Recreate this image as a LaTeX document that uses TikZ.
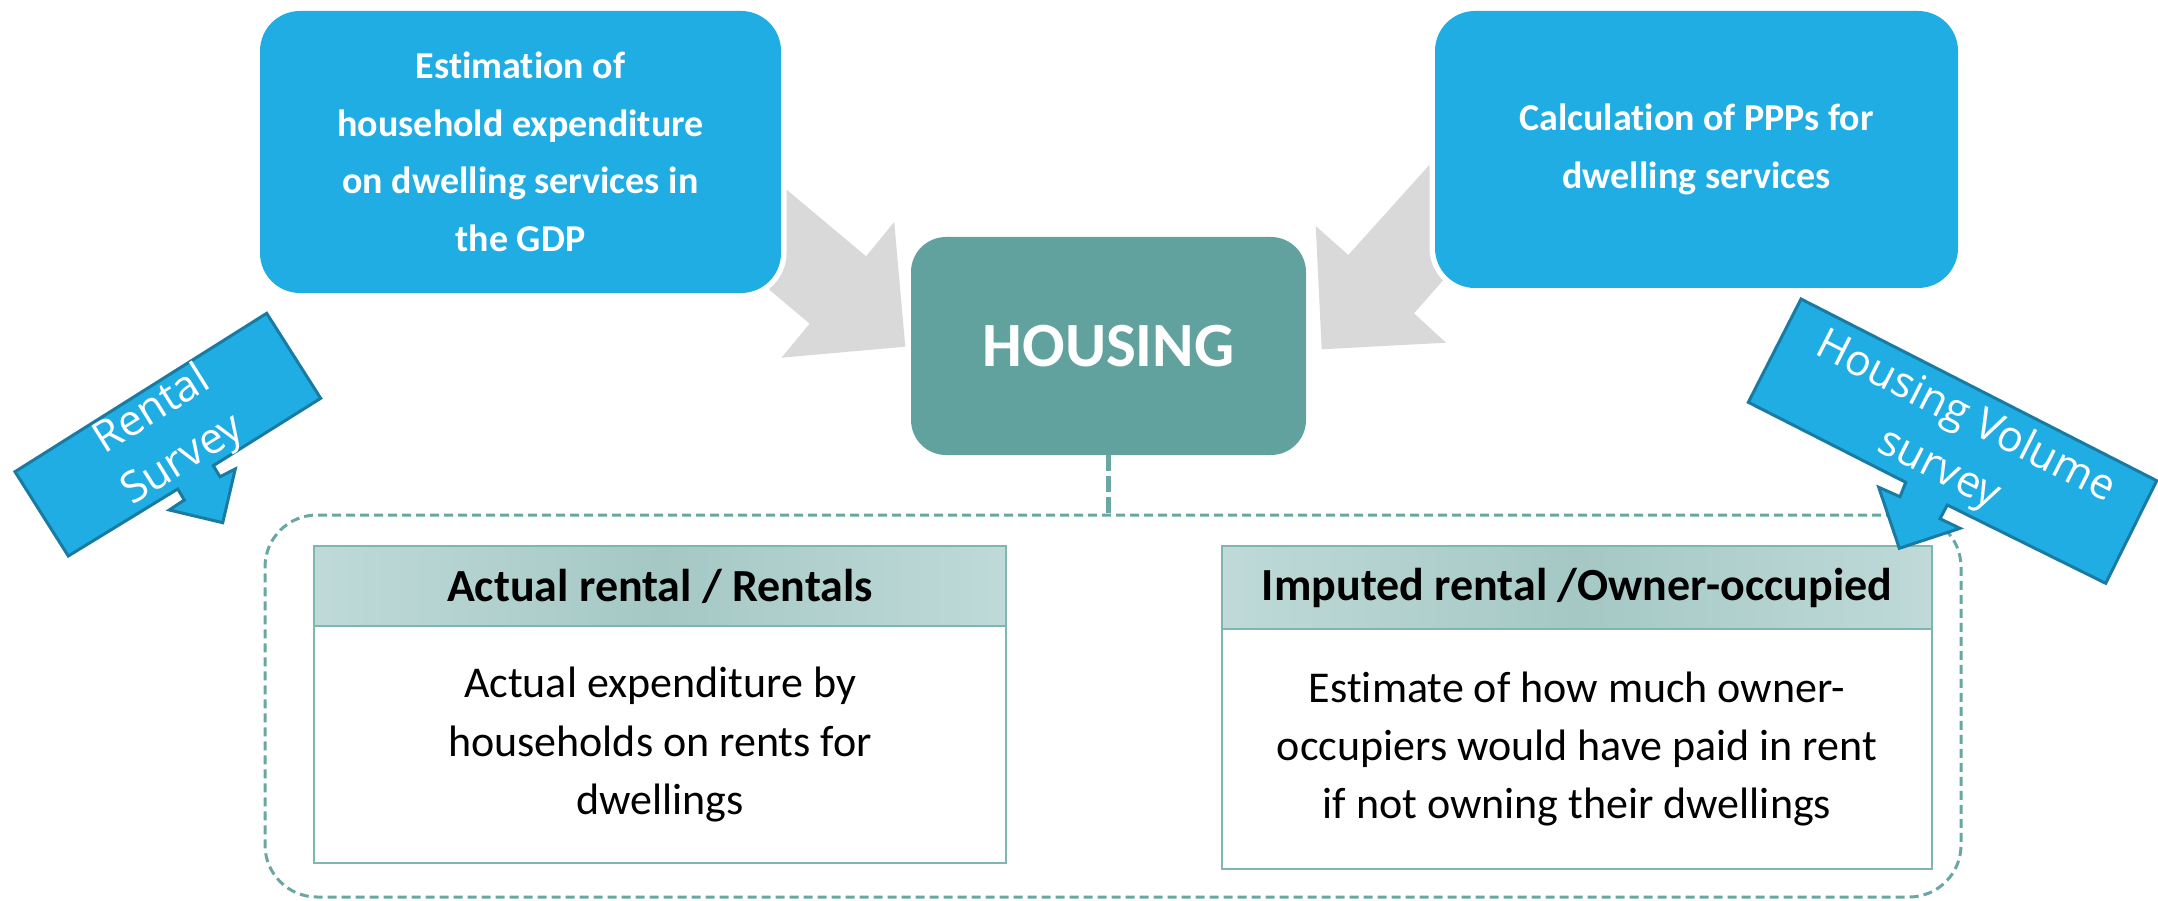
\documentclass[tikz,border=0pt]{standalone}
\usepackage{fontspec}
\setmainfont{Carlito}[Ligatures=CommonOff]
\newfontfamily\calloutfont{Open Sans}
\definecolor{boxblue}{HTML}{1FADE4}
\definecolor{calloutedge}{HTML}{1A7BA2}
\definecolor{housingteal}{HTML}{62A29E}
\definecolor{arrowgray}{HTML}{D9D9D9}
\definecolor{dashteal}{HTML}{68A7A2}
\definecolor{headlight}{HTML}{BFDAD8}
\definecolor{headdark}{HTML}{A5C8C5}
\definecolor{frameteal}{HTML}{80B6B2}
\begin{document}
\begin{tikzpicture}[x=1pt,y=-1pt,
  topbox/.style={fill=boxblue, preaction={draw=white, line width=11pt},
    rounded corners=40pt, text=white, align=center, inner sep=0pt, outer sep=0pt,
    font=\fontsize{38}{57.5}\selectfont\bfseries},
  housingbox/.style={fill=housingteal, rounded corners=35pt, text=white, inner sep=0pt,
    outer sep=0pt, font=\fontsize{63}{70}\selectfont\bfseries},
  grayarrow/.style={fill=arrowgray, draw=none},
  groupbox/.style={draw=dashteal, line width=3pt, dash pattern=on 9pt off 5pt,
    rounded corners=52pt, inner sep=0pt, outer sep=0pt},
  headbox/.style={left color=headlight, right color=headlight, middle color=headdark,
    draw=frameteal, line width=2pt, inner sep=0pt, outer sep=0pt,
    font=\fontsize{46}{52}\selectfont\bfseries},
  bodybox/.style={fill=white, draw=frameteal, line width=1.5pt, inner sep=0pt,
    outer sep=0pt, align=center, font=\fontsize{44}{58}\selectfont},
  callout/.style={fill=boxblue, draw=calloutedge, line width=3pt, line join=miter},
  callouttext/.style={text=white, align=center, font=\calloutfont\fontsize{43}{58}\selectfont}
]
\useasboundingbox (0,0) rectangle (2158,901);

% gray arrows (tails hidden behind the blue boxes)
\fill[grayarrow] (724,137) -- (787,190) -- (866.1,256.3) -- (894.2,222) -- (905.3,346.7)
  -- (781.5,357.7) -- (809.6,323.7) -- (767.7,288.3) -- (704.7,235) -- cycle;
\fill[grayarrow] (1494,93) -- (1429.3,165) -- (1348.3,255) -- (1315.7,226) -- (1321.7,349.3)
  -- (1446,342.7) -- (1414,313.3) -- (1444,279.3) -- (1504,211) -- cycle;

% top boxes
\node[topbox, minimum width=521pt, minimum height=282pt] (estim) at (520.5,152)
  {Estimation of\\household expenditure\\on dwelling services in\\the GDP};
\node[topbox, minimum width=523pt, minimum height=277pt] (ppp) at (1696.5,149.5)
  {Calculation of PPPs for\\dwelling services};

% housing
\node[housingbox, minimum width=395pt, minimum height=218pt] (housing) at (1108.5,346) {HOUSING};

% dashed group
\node[groupbox, minimum width=1696pt, minimum height=382pt] (group) at (1113,706) {};
\draw[dashteal, line width=5pt, dash pattern=on 16pt off 5pt] (housing.south) -- (housing.south |- group.north);

% actual rental
\node[headbox, minimum width=692pt, minimum height=80pt] (acthead) at (660,586) {Actual rental / Rentals};
\node[bodybox, minimum width=692pt, minimum height=237pt] (actbody) at (660,744.5)
  {Actual expenditure by\\households on rents for\\dwellings};

% imputed rental
\node[headbox, minimum width=710pt, minimum height=83pt] (imphead) at (1577,587.5) {Imputed rental /Owner-occupied};
\node[bodybox, minimum width=710pt, minimum height=240pt] (impbody) at (1577,749)
  {Estimate of how much owner-\\occupiers would have paid in rent\\if not owning their dwellings};

% callouts
\draw[callout] (266.7,313.3) -- (320.7,398.3) -- (213.3,465.7) -- (220,476.7) -- (235.3,469)
  -- (222.7,522.7) -- (169.3,510) -- (184.3,500) -- (177.7,489) -- (68.3,556) -- (15,471.7) -- cycle;
\node[callouttext, rotate=32] (rentaltxt) at (168,436) {Rental\\Survey};

\draw[callout] (1801,299) -- (2156.7,480.7) -- (2105.7,583.3) -- (1947.3,505) -- (1940,518.7)
  -- (1960,528.3) -- (1899.3,548.3) -- (1878.7,487.3) -- (1900,496.7) -- (1905.7,482.3)
  -- (1748.3,402.3) -- cycle;
\node[callouttext, rotate=-26.9] (volumetxt) at (1952,444) {Housing Volume\\survey};
\end{tikzpicture}
\end{document}
